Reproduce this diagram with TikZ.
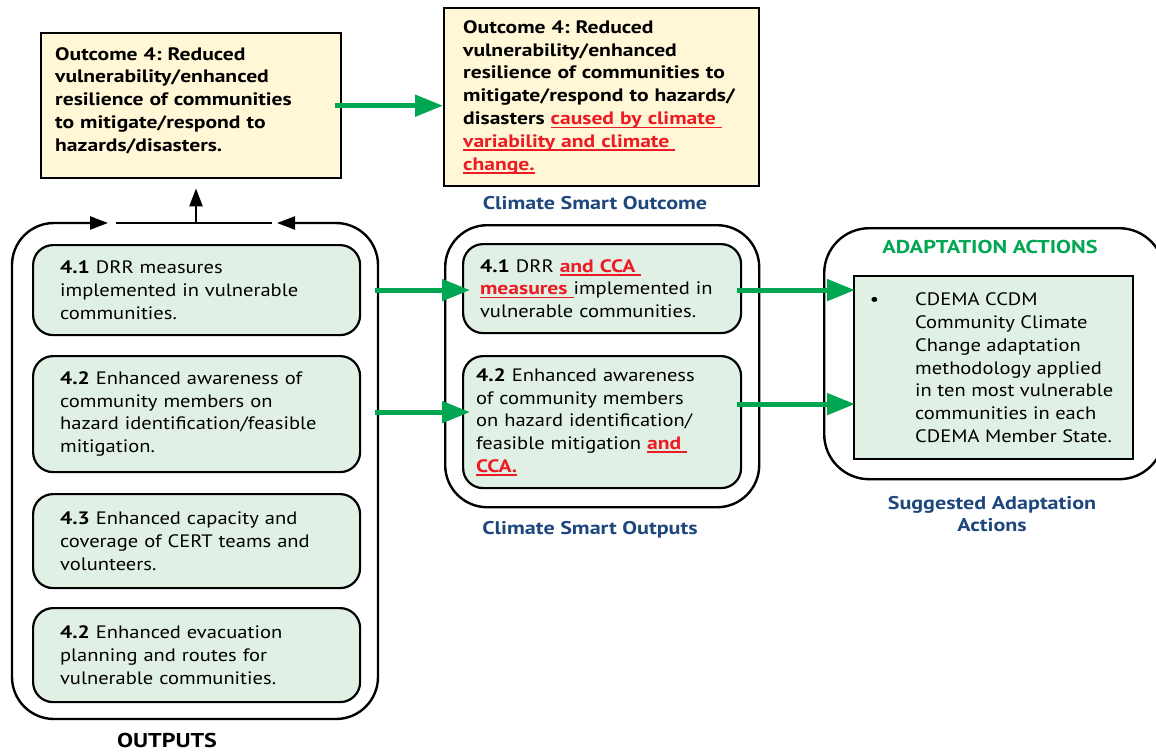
\documentclass[tikz,border=0pt]{standalone}
\usepackage{fontspec}
\setmainfont{PT Sans}[FakeStretch=1.14, BoldFeatures={FakeStretch=1.2}]
\usetikzlibrary{arrows.meta,calc}
\definecolor{cyellow}{RGB}{255,247,214}
\definecolor{cgfill}{RGB}{225,240,229}
\definecolor{cgreen}{RGB}{0,166,81}
\definecolor{cred}{RGB}{237,28,36}
\definecolor{cblue}{RGB}{30,72,125}
\frenchspacing
\newsavebox{\redubox}
\newcommand{\redu}[1]{\mbox{\color{cred}\bfseries\sbox{\redubox}{#1}\usebox{\redubox}\llap{\rule[-3.5pt]{\wd\redubox}{1.5pt}}}}
\tikzset{
  body/.style={font=\fontsize{18}{22.7}\selectfont},
  obox/.style={draw, line width=2.4pt, fill=cyellow, anchor=north west, align=left, inner ysep=0pt,
     font=\fontsize{18}{22.8}\selectfont\bfseries},
  gbox/.style={draw, line width=2.2pt, fill=cgfill, rounded corners=20pt, anchor=north west, align=left,
     inner ysep=0pt, body},
  frame/.style={draw, line width=2.4pt, rounded corners=42pt, anchor=north west},
  garrow/.style={draw=cgreen, line width=5pt, -{Triangle[length=28pt,width=21pt]}},
  barrow/.style={line width=2.4pt, -{Triangle[length=18pt,width=13pt]}},
  lbl/.style={font=\fontsize{18.4}{22.5}\selectfont\bfseries, text=cblue, align=center},
}
\begin{document}
\begin{tikzpicture}[x=1pt,y=-1pt]
\useasboundingbox (0,0) rectangle (1156,752);
\clip (0,0) rectangle (1156,752);

% Outcome boxes
\node[obox, minimum width=300pt, minimum height=145pt, inner xsep=14pt, text width=272pt] (oc1) at (40,32)
 {Outcome 4: Reduced\\vulnerability/enhanced\\resilience of communities\\to mitigate/respond to\\hazards/disasters.\\[-10pt]\mbox{}};
\node[obox, minimum width=315pt, minimum height=178pt, inner xsep=19pt, text width=277pt] (oc2) at (443,7)
 {Outcome 4: Reduced\\vulnerability/enhanced\\resilience of communities to\\mitigate/respond to hazards/\\disasters \redu{caused by climate\ }\\\redu{variability and climate\ }\\\redu{change.}};
\node[lbl, anchor=center] (cso) at (595,203) {Climate Smart Outcome};

% Outputs frame
\coordinate (fl) at (108,223);
\coordinate (fr) at (277,223);
\draw[line width=2.4pt, rounded corners=42pt, {Triangle[length=18pt,width=13pt]}-{Triangle[length=18pt,width=13pt]}]
  (fr) -- (378,223) -- (378,719) -- (12,719) -- (12,223) -- (fl);
\coordinate (bl) at (116,223);
\coordinate (br) at (272,223);
\coordinate (bm) at (196,223);
\draw[line width=2.4pt] (bl) -- (br);
\draw[barrow, shorten >=9pt] (bm) -- (bm |- oc1.south);
\node[font=\fontsize{20}{22}\selectfont\bfseries, anchor=base, inner sep=0pt] (outl) at (167,747.5) {OUTPUTS};

\node[gbox, minimum width=327pt, minimum height=90pt, inner xsep=27pt, text width=273pt] (L1) at (32,244)
 {\textbf{4.1} DRR measures\\implemented in vulnerable\\communities.};
\node[gbox, minimum width=327pt, minimum height=116pt, inner xsep=27pt, text width=273pt] (L2) at (32,355)
 {\textbf{4.2} Enhanced awareness of\\community members on\\hazard identification/feasible\\mitigation.};
\node[gbox, minimum width=327pt, minimum height=94pt, inner xsep=27pt, text width=273pt] (L3) at (32,493)
 {\textbf{4.3} Enhanced capacity and\\coverage of CERT teams and\\volunteers.};
\node[gbox, minimum width=327pt, minimum height=94pt, inner xsep=27pt, text width=273pt] (L4) at (32,607)
 {\textbf{4.2} Enhanced evacuation\\planning and routes for\\vulnerable communities.};

% Climate smart outputs
\node[frame, minimum width=314pt, minimum height=282pt] (mframe) at (444,224) {};
\node[gbox, minimum width=278pt, minimum height=89pt, inner xsep=17pt, text width=244pt] (M1) at (462,243)
 {\textbf{4.1} DRR \redu{and CCA\ }\\\redu{measures\ }implemented in\\vulnerable communities.};
\node[gbox, minimum width=278pt, minimum height=132pt, inner xsep=13pt, text width=252pt] (M2) at (462,355)
 {\textbf{4.2} Enhanced awareness\\of community members\\on hazard identification/\\feasible mitigation \redu{and\ }\\\redu{CCA.}};
\node[lbl, anchor=center] (cso2) at (590,530) {Climate Smart Outputs};

% Adaptation actions
\node[frame, minimum width=340pt, minimum height=251pt, rounded corners=45pt] (aframe) at (823,227) {};
\node[font=\fontsize{18.6}{22}\selectfont\bfseries, text=cgreen, anchor=center] (aat) at (990,247) {ADAPTATION ACTIONS};
\node[draw, line width=2.4pt, fill=cgfill, anchor=north west, minimum width=279pt, minimum height=183pt] (A) at (853,275) {};
\node[body, anchor=west, align=left, inner sep=0pt] (At) at ($(A.west)+(62,0)$)
 {\llap{\textbullet\hspace{36pt}}CDEMA CCDM\\Community Climate\\Change adaptation\\methodology applied\\in ten most vulnerable\\communities in each\\CDEMA Member State.};
\node[lbl, anchor=center] (sa) at (992,514) {Suggested Adaptation\\Actions};

% green arrows
\draw[garrow] ([xshift=-7pt]oc1.east) -- (oc1.east -| oc2.west);
\draw[garrow, shorten >=-8pt] ([xshift=14pt]L1.east) -- (L1.east -| M1.west);
\draw[garrow, shorten >=-8pt] ([xshift=14pt,yshift=2pt]L2.east) -- ([yshift=2pt]L2.east -| M2.west);
\draw[garrow, shorten >=-2pt] ([xshift=-5pt,yshift=-1.5pt]M1.east) -- ([yshift=-1.5pt]M1.east -| A.west);
\draw[garrow, shorten >=-2pt] ([xshift=-5pt,yshift=18pt]M2.east) -- ([yshift=18pt]M2.east -| A.west);
\end{tikzpicture}
\end{document}
